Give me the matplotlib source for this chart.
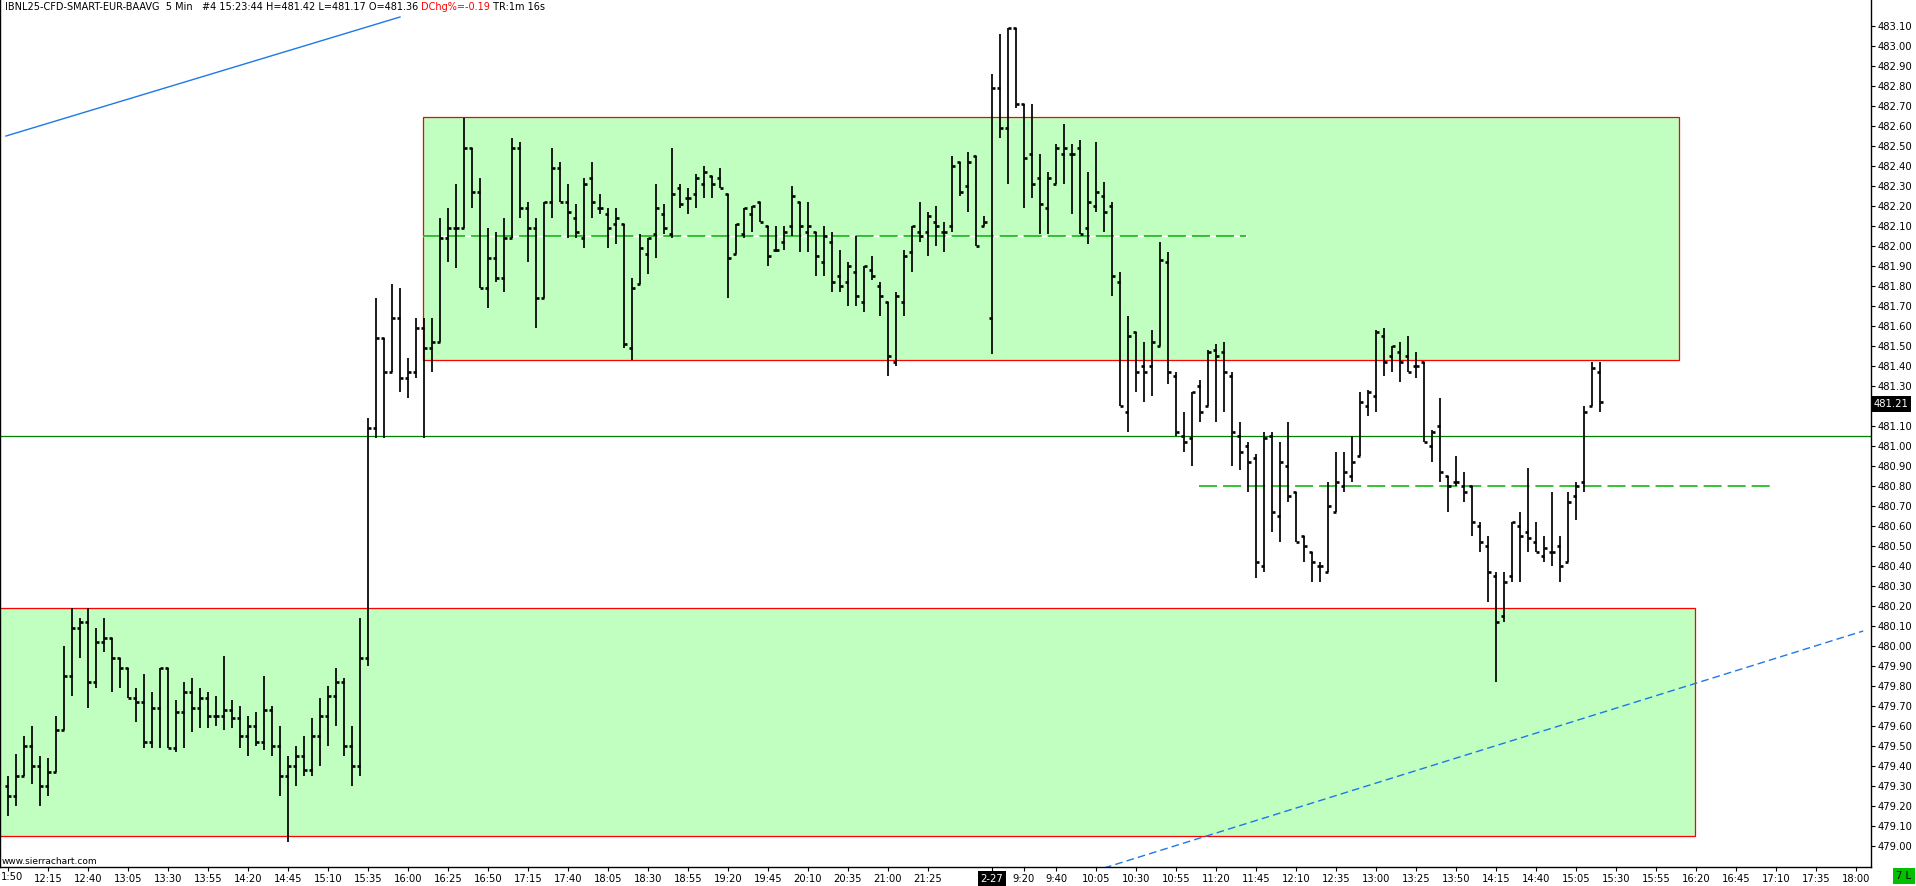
import matplotlib
matplotlib.use('Agg')
import matplotlib.pyplot as plt
from matplotlib.patches import Rectangle
import numpy as np

plt.rcParams['font.family'] = 'DejaVu Sans'
plt.rcParams['lines.scale_dashes'] = False

# 5 min OHLC bars, 2-26 11:50 ... 2-27 15:20 (bar index = x position)
opens = [479.30, 479.25, 479.35, 479.50, 479.40, 479.30, 479.37, 479.58, 479.85, 480.09,
         480.12, 479.82, 480.02, 480.04, 479.94, 479.89, 479.74, 479.72, 479.52, 479.69,
         479.89, 479.49, 479.67, 479.77, 479.69, 479.74, 479.65, 479.65, 479.68, 479.64,
         479.55, 479.60, 479.52, 479.68, 479.50, 479.35, 479.40, 479.45, 479.38, 479.55,
         479.65, 479.75, 479.82, 479.50, 479.40, 479.94, 481.09, 481.54, 481.37, 481.64,
         481.34, 481.37, 481.59, 481.49, 481.52, 482.04, 482.09, 482.09, 482.49, 482.27,
         481.79, 481.94, 481.84, 482.04, 482.49, 482.19, 482.09, 481.74, 482.22, 482.39,
         482.22, 482.14, 482.04, 482.34, 482.19, 482.16, 482.11, 482.11, 481.49, 481.81,
         481.96, 482.06, 482.16, 482.06, 482.29, 482.24, 482.26, 482.31, 482.35, 482.34,
         482.26, 481.96, 482.06, 482.16, 482.22, 482.10, 481.98, 482.02, 482.10, 482.22,
         482.07, 482.07, 481.92, 482.02, 481.85, 481.82, 481.87, 481.72, 481.88, 481.80,
         481.72, 481.42, 481.72, 481.97, 482.07, 482.07, 482.12, 482.07, 482.10, 482.42,
         482.30, 482.45, 482.10, 481.64, 482.79, 482.59, 483.09, 482.71, 482.46, 482.34,
         482.19, 482.31, 482.46, 482.46, 482.49, 482.09, 482.20, 482.25, 482.20, 481.82,
         481.17, 481.57, 481.40, 481.40, 481.50, 481.92, 481.35, 481.05, 481.04, 481.30,
         481.20, 481.48, 481.47, 481.35, 481.05, 481.00, 480.94, 480.40, 481.05, 480.65,
         480.90, 480.77, 480.55, 480.47, 480.40, 480.37, 480.67, 480.80, 480.85, 480.95,
         481.20, 481.25, 481.55, 481.45, 481.47, 481.45, 481.40, 481.42, 481.00, 481.10,
         480.85, 480.82, 480.80, 480.80, 480.60, 480.50, 480.35, 480.15, 480.35, 480.60,
         480.57, 480.52, 480.45, 480.47, 480.50, 480.42, 480.75, 480.82, 481.20, 481.37]
highs = [479.35, 479.46, 479.55, 479.60, 479.45, 479.44, 479.65, 480.00, 480.19, 480.14,
         480.19, 480.09, 480.14, 480.04, 479.94, 479.89, 479.79, 479.86, 479.77, 479.89,
         479.89, 479.73, 479.82, 479.84, 479.79, 479.77, 479.75, 479.95, 479.73, 479.70,
         479.65, 479.67, 479.85, 479.70, 479.60, 479.45, 479.50, 479.55, 479.64, 479.74,
         479.80, 479.89, 479.84, 479.60, 480.14, 481.14, 481.74, 481.54, 481.81, 481.79,
         481.44, 481.64, 481.64, 481.64, 482.14, 482.19, 482.31, 482.64, 482.49, 482.34,
         482.09, 482.07, 482.14, 482.54, 482.52, 482.22, 482.14, 482.22, 482.49, 482.42,
         482.31, 482.21, 482.34, 482.42, 482.26, 482.19, 482.19, 482.11, 481.84, 482.06,
         482.04, 482.31, 482.21, 482.49, 482.31, 482.29, 482.36, 482.40, 482.35, 482.39,
         482.26, 482.11, 482.19, 482.20, 482.22, 482.10, 482.10, 482.10, 482.30, 482.22,
         482.22, 482.07, 482.10, 482.07, 481.98, 481.92, 482.05, 481.90, 481.95, 481.82,
         481.72, 481.77, 481.98, 482.10, 482.22, 482.17, 482.20, 482.12, 482.45, 482.42,
         482.47, 482.45, 482.15, 482.86, 483.06, 483.09, 483.09, 482.71, 482.71, 482.46,
         482.37, 482.51, 482.61, 482.51, 482.53, 482.37, 482.52, 482.32, 482.22, 481.87,
         481.65, 481.57, 481.52, 481.58, 482.02, 481.97, 481.37, 481.17, 481.27, 481.33,
         481.48, 481.51, 481.52, 481.37, 481.12, 481.02, 480.96, 481.07, 481.07, 481.02,
         481.12, 480.77, 480.55, 480.47, 480.42, 480.82, 480.97, 480.97, 481.05, 481.27,
         481.28, 481.58, 481.59, 481.50, 481.52, 481.55, 481.47, 481.42, 481.08, 481.24,
         480.85, 480.95, 480.87, 480.80, 480.62, 480.55, 480.37, 480.37, 480.62, 480.67,
         480.89, 480.62, 480.55, 480.77, 480.55, 480.77, 480.82, 481.20, 481.42, 481.42]
lows = [479.15, 479.20, 479.35, 479.31, 479.20, 479.25, 479.37, 479.58, 479.75, 479.94,
        479.69, 479.79, 479.97, 479.77, 479.79, 479.74, 479.62, 479.49, 479.49, 479.49,
        479.49, 479.47, 479.49, 479.57, 479.59, 479.59, 479.60, 479.58, 479.59, 479.49,
        479.45, 479.50, 479.48, 479.45, 479.25, 479.02, 479.30, 479.35, 479.35, 479.40,
        479.50, 479.60, 479.45, 479.30, 479.35, 479.90, 481.04, 481.04, 481.37, 481.27,
        481.24, 481.34, 481.04, 481.37, 481.52, 481.92, 481.89, 482.09, 482.19, 481.79,
        481.69, 481.82, 481.77, 482.04, 482.14, 481.92, 481.59, 481.74, 482.14, 482.22,
        482.04, 482.04, 481.99, 482.14, 482.16, 481.99, 482.01, 481.49, 481.43, 481.81,
        481.86, 481.94, 482.06, 482.04, 482.19, 482.16, 482.19, 482.24, 482.24, 482.29,
        481.74, 481.96, 482.04, 482.07, 482.12, 481.90, 481.97, 481.98, 482.05, 481.97,
        481.97, 481.85, 481.85, 481.77, 481.77, 481.70, 481.70, 481.67, 481.83, 481.65,
        481.35, 481.40, 481.65, 481.87, 482.02, 481.95, 482.00, 481.97, 482.07, 482.25,
        482.17, 482.00, 482.10, 481.46, 482.54, 482.31, 482.69, 482.19, 482.24, 482.06,
        482.06, 482.31, 482.31, 482.16, 482.06, 482.01, 482.17, 482.07, 481.75, 481.20,
        481.07, 481.27, 481.22, 481.25, 481.50, 481.31, 481.05, 480.97, 480.90, 481.12,
        481.20, 481.12, 481.17, 480.90, 480.88, 480.77, 480.34, 480.37, 480.57, 480.52,
        480.72, 480.52, 480.42, 480.32, 480.32, 480.37, 480.67, 480.77, 480.82, 480.95,
        481.15, 481.17, 481.35, 481.37, 481.32, 481.37, 481.34, 481.02, 480.92, 480.82,
        480.67, 480.80, 480.72, 480.55, 480.47, 480.22, 479.82, 480.12, 480.32, 480.32,
        480.47, 480.47, 480.42, 480.40, 480.32, 480.42, 480.63, 480.77, 481.20, 481.17]
closes = [479.25, 479.35, 479.50, 479.40, 479.30, 479.37, 479.58, 479.85, 480.09, 480.12,
          479.82, 480.02, 480.04, 479.94, 479.89, 479.74, 479.72, 479.52, 479.69, 479.89,
          479.49, 479.67, 479.77, 479.69, 479.74, 479.65, 479.65, 479.68, 479.64, 479.55,
          479.60, 479.52, 479.68, 479.50, 479.35, 479.40, 479.45, 479.38, 479.55, 479.65,
          479.75, 479.82, 479.50, 479.40, 479.94, 481.09, 481.54, 481.37, 481.64, 481.34,
          481.37, 481.59, 481.49, 481.52, 482.04, 482.09, 482.09, 482.49, 482.27, 481.79,
          481.94, 481.84, 482.04, 482.49, 482.19, 482.09, 481.74, 482.22, 482.39, 482.22,
          482.17, 482.07, 482.31, 482.22, 482.19, 482.09, 482.14, 481.51, 481.79, 481.99,
          482.04, 482.19, 482.09, 482.26, 482.21, 482.24, 482.34, 482.37, 482.31, 482.29,
          481.94, 482.11, 482.19, 482.20, 482.12, 481.95, 481.98, 482.07, 482.25, 482.10,
          482.10, 481.95, 482.05, 481.82, 481.80, 481.90, 481.75, 481.90, 481.85, 481.75,
          481.45, 481.75, 481.95, 482.10, 482.05, 482.15, 482.10, 482.07, 482.40, 482.27,
          482.42, 482.00, 482.12, 482.79, 482.59, 483.09, 482.71, 482.44, 482.31, 482.21,
          482.34, 482.49, 482.49, 482.46, 482.06, 482.22, 482.27, 482.17, 481.85, 481.20,
          481.55, 481.37, 481.37, 481.52, 481.93, 481.37, 481.07, 481.02, 481.27, 481.17,
          481.47, 481.45, 481.37, 481.07, 480.97, 480.92, 480.42, 481.04, 480.67, 480.92,
          480.75, 480.52, 480.50, 480.42, 480.40, 480.70, 480.82, 480.87, 480.92, 481.22,
          481.27, 481.57, 481.42, 481.50, 481.42, 481.37, 481.40, 481.02, 481.07, 480.87,
          480.80, 480.82, 480.77, 480.62, 480.52, 480.37, 480.12, 480.32, 480.62, 480.55,
          480.54, 480.47, 480.49, 480.47, 480.40, 480.72, 480.80, 481.17, 481.39, 481.22]

# drawings: zones (x in bars, price range), levels, trend lines
upper_zone = (51.9, 208.9, 481.43, 482.645)
lower_zone = (-3.0, 210.9, 479.05, 480.19)
support_line = 481.05
mid_levels = [(51.9, 154.8, 482.05), (148.9, 220.2, 480.80)]
trend_top = ([-0.25, 49.0], [482.55, 483.145])
trend_bottom = ([137.0, 231.9], [478.89, 480.075])

# time axis labels (bar positions derived from session starts)
day1_start, day2_start, day2_first_bar = '11:50', '9:00', 123
day1_labels = ['11:50', '12:15', '12:40', '13:05', '13:30', '13:55', '14:20', '14:45',
               '15:10', '15:35', '16:00', '16:25', '16:50', '17:15', '17:40', '18:05',
               '18:30', '18:55', '19:20', '19:45', '20:10', '20:35', '21:00', '21:25']
day2_labels = ['9:00', '9:20', '9:40', '10:05', '10:30', '10:55', '11:20', '11:45', '12:10',
               '12:35', '13:00', '13:25', '13:50', '14:15', '14:40', '15:05', '15:30',
               '15:55', '16:20', '16:45', '17:10', '17:35', '18:00']


def minutes(t):
    h, m = t.split(':')
    return int(h) * 60 + int(m)


xt_pos, xt_lab = [], []
for t in day1_labels:
    xt_pos.append((minutes(t) - minutes(day1_start)) / 5)
    xt_lab.append(t)
for t in day2_labels:
    xt_pos.append(day2_first_bar + (minutes(t) - minutes(day2_start)) / 5)
    xt_lab.append('2-27' if t == day2_start else t)

W, H = 1916, 886
fig = plt.figure(figsize=(W / 100, H / 100), dpi=100)
ax = fig.add_axes([0, 19 / H, 1871 / W, 867 / H])
ax.set_xlim(-1, 232.875)
ax.set_ylim(478.895, 483.23)

green_fill = '#C0FFC0'
for x0, x1, y0, y1 in [upper_zone, lower_zone]:
    ax.add_patch(Rectangle((x0, y0), x1 - x0, y1 - y0, facecolor=green_fill,
                           edgecolor='#FF0000', lw=0.9, zorder=1))

ax.axhline(support_line, color='#008000', lw=0.9, zorder=2)
for x0, x1, y in mid_levels:
    ax.plot([x0, x1], [y, y], color='white', lw=1.0, zorder=2)
    ax.plot([x0, x1], [y, y], color='#00B000', lw=1.1, dashes=(13, 4.3), zorder=2.1)

ax.plot(*trend_top, color='#1E78E6', lw=1.0, zorder=2)
ax.plot(*trend_bottom, color='#1E78E6', lw=1.0, dashes=(5.5, 3), zorder=2)

# ohlc bars
x = np.arange(len(opens))
ax.vlines(x, lows, highs, color='black', lw=1.25, zorder=3)
ax.hlines(opens, x - 0.33, x, color='black', lw=1.9, zorder=3)
ax.hlines(closes, x, x + 0.33, color='black', lw=1.9, zorder=3)

# axes styling
ax.spines['top'].set_visible(False)
for s in ['left', 'right', 'bottom']:
    ax.spines[s].set_linewidth(1.0)
ax.yaxis.tick_right()
yt = np.round(np.arange(479.0, 483.101, 0.1), 2)
ax.set_yticks(yt)
ax.set_yticklabels(['' if abs(v - 481.2) < 1e-6 else f'{v:.2f}' for v in yt])
ax.tick_params(axis='y', direction='out', length=3, width=0.8, labelsize=7.2, pad=1.5)
ax.set_xticks(xt_pos)
# first label is cut by the left edge in the chart; only "1:50" is visible
ax.set_xticklabels([''] + xt_lab[1:])
ax.tick_params(axis='x', direction='out', length=3, width=0.8, labelsize=7.2, pad=2)
for lab in ax.get_xticklabels():
    if lab.get_text() == '2-27':
        lab.set_color('white')
        lab.set_bbox(dict(facecolor='black', edgecolor='none', pad=1.8))
fig.text(0.5 / W, 1 - 877 / H, xt_lab[0][1:], fontsize=7.2, ha='left', va='center')

# last price marker
ax.text(1.0015, 481.21, '481.21', transform=ax.get_yaxis_transform(), ha='left',
        va='center', fontsize=7.2, color='white', zorder=10, clip_on=False,
        bbox=dict(facecolor='black', edgecolor='none', pad=2))
fig.text(1904 / W, 1 - 876 / H, '7 L', ha='center', va='center', fontsize=7.2,
         bbox=dict(facecolor='#00C000', edgecolor='none', pad=2.2))
ax.text(0.001, 5 / 867, 'www.sierrachart.com', transform=ax.transAxes, fontsize=6.5,
        ha='left', va='center')

# header line
parts = [('IBNL25-CFD-SMART-EUR-BAAVG  5 Min   #4 15:23:44 H=481.42 L=481.17 O=481.36 ', 'black'),
         ('DChg%=-0.19', '#FF0000'), (' TR:1m 16s', 'black')]
renderer = fig.canvas.get_renderer()
xpos = 5
for txt, col in parts:
    t = fig.text(xpos / W, 1 - 7 / H, txt, fontsize=7, color=col, ha='left', va='center')
    xpos += t.get_window_extent(renderer).width

fig.savefig('out.png', dpi=100)
